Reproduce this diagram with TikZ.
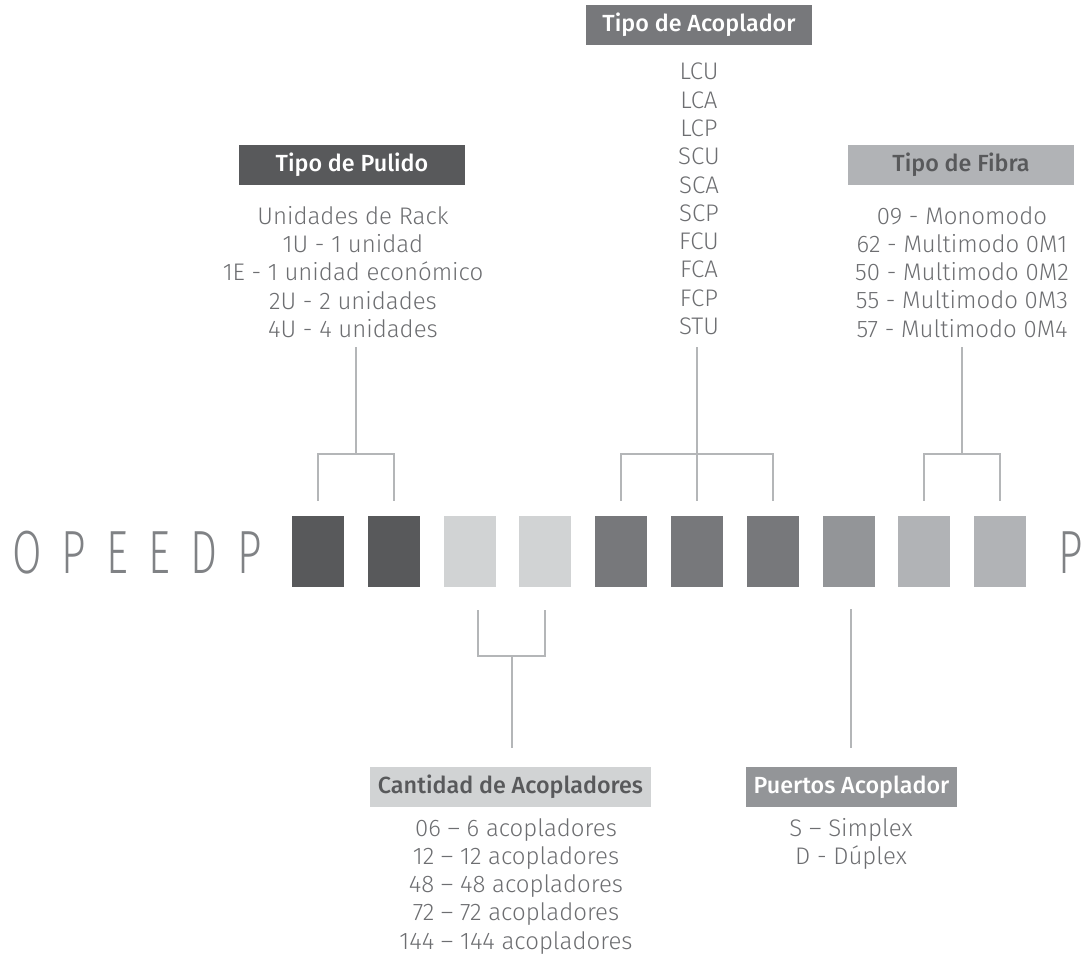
\documentclass[tikz,border=0pt]{standalone}
\usepackage{fontspec}
\usepackage{graphicx}
\usepackage{tikz}
\usetikzlibrary{calc}

\newfontfamily\lightfont{Fira Sans Light}
\newfontfamily\medfont{Fira Sans Medium}
\newfontfamily\codefont[LetterSpace=47]{Fira Sans Light}

\definecolor{grisA}{RGB}{88,89,91}
\definecolor{grisB}{RGB}{209,211,212}
\definecolor{grisC}{RGB}{119,120,123}
\definecolor{grisD}{RGB}{147,149,152}
\definecolor{grisE}{RGB}{177,179,182}
\definecolor{linea}{RGB}{180,182,184}
\definecolor{texto}{RGB}{109,110,113}
\definecolor{codigo}{RGB}{128,130,133}

\tikzset{
  cbox/.style={minimum width=39pt, minimum height=53.25pt, inner sep=0pt},
  hdr/.style={minimum height=30pt, inner xsep=6pt, inner ysep=0pt, font=\medfont\fontsize{17.5}{20}\selectfont},
  hdrw/.style={hdr, minimum width=169.5pt},
  lst/.style={align=center, inner sep=0pt, anchor=north, text=texto, font=\lightfont\fontsize{18}{21.2}\selectfont},
  conn/.style={draw=linea, line width=1.5pt},
}

\begin{document}
\begin{tikzpicture}[x=0.75pt,y=0.75pt,yscale=-1,xscale=1]
\useasboundingbox (0,0) rectangle (1090,956);

%Shape: Rectangle [code boxes]
\node [cbox, fill=grisA] (b1) at (318,551.5) {};
\node [cbox, fill=grisA] (b2) at (393.8,551.5) {};
\node [cbox, fill=grisB] (b3) at (469.6,551.5) {};
\node [cbox, fill=grisB] (b4) at (545.4,551.5) {};
\node [cbox, fill=grisC] (b5) at (621.2,551.5) {};
\node [cbox, fill=grisC] (b6) at (697,551.5) {};
\node [cbox, fill=grisC] (b7) at (772.8,551.5) {};
\node [cbox, fill=grisD] (b8) at (848.6,551.5) {};
\node [cbox, fill=grisE] (b9) at (924.4,551.5) {};
\node [cbox, fill=grisE] (b10) at (1000.2,551.5) {};

% Text Node [code]
\node [anchor=base west, inner sep=0pt, text=codigo, font=\codefont\fontsize{45.75}{50}\selectfont] (pref) at (12,573) {\scalebox{0.7}[1]{OPEEDP}};
\node [anchor=base west, inner sep=0pt, text=codigo, font=\lightfont\fontsize{45.75}{50}\selectfont] (suf) at (1058,573) {\scalebox{0.7}[1]{P}};

% Text Node [headers]
\node [hdrw, fill=grisA, text=white] (hpul) at (352,165) {Tipo de Pulido};
\node [hdrw, fill=grisC, text=white] (hacop) at (699,25) {Tipo de Acoplador};
\node [hdrw, fill=grisE, text=grisA] (hfib) at (961,165) {Tipo de Fibra};
\node [hdr, fill=grisB, text=grisA] (hcant) at (510.5,787) {Cantidad de Acopladores};
\node [hdr, fill=grisD, text=white] (hpuer) at (851.5,787) {Puertos Acoplador};

% Text Node [lists]
\node [lst] (lpul) at (353,206) {Unidades de Rack\\1U - 1 unidad\\1E - 1 unidad económico\\2U - 2 unidades\\4U - 4 unidades};
\node [lst] (lacop) at (699,63) {LCU\\LCA\\LCP\\SCU\\SCA\\SCP\\FCU\\FCA\\FCP\\STU};
\node [lst] (lfib) at (962,206) {09 - Monomodo\\62 - Multimodo 0M1\\50 - Multimodo 0M2\\55 - Multimodo 0M3\\57 - Multimodo 0M4};
\node [lst] (lcant) at (516,818) {06 – 6 acopladores\\12 – 12 acopladores\\48 – 48 acopladores\\72 – 72 acopladores\\144 – 144 acopladores};
\node [lst] (lpuer) at (851,818) {S – Simplex\\D - Dúplex};

%Straight Lines [upper brackets]
\coordinate (pulTop) at (356,347);
\coordinate (pulJoin) at (356,454);
\draw [conn] (pulTop) -- (pulJoin);
\draw [conn] ($(b1.north)+(0,-15)$) |- (pulJoin) -| ($(b2.north)+(0,-15)$);

\coordinate (acoTop) at (697,347);
\coordinate (acoJoin) at (697,454);
\draw [conn] (acoTop) -- (acoJoin) -- ($(b6.north)+(0,-15)$);
\draw [conn] ($(b5.north)+(0,-15)$) |- (acoJoin) -| ($(b7.north)+(0,-15)$);

\coordinate (fibTop) at (962.3,347);
\coordinate (fibJoin) at (962.3,454);
\draw [conn] (fibTop) -- (fibJoin);
\draw [conn] ($(b9.north)+(0,-15)$) |- (fibJoin) -| ($(b10.north)+(0,-15)$);

%Straight Lines [lower brackets]
\coordinate (cantJoin) at (511.5,656);
\coordinate (cantBot) at (511.5,748);
\draw [conn] ($(b3.south)+(8,23)$) |- (cantJoin) -| ($(b4.south)+(0,23)$);
\draw [conn] (cantJoin) -- (cantBot);

\coordinate (puerTop) at (851,609);
\coordinate (puerBot) at (851,748);
\draw [conn] (puerTop) -- (puerBot);

\end{tikzpicture}
\end{document}
